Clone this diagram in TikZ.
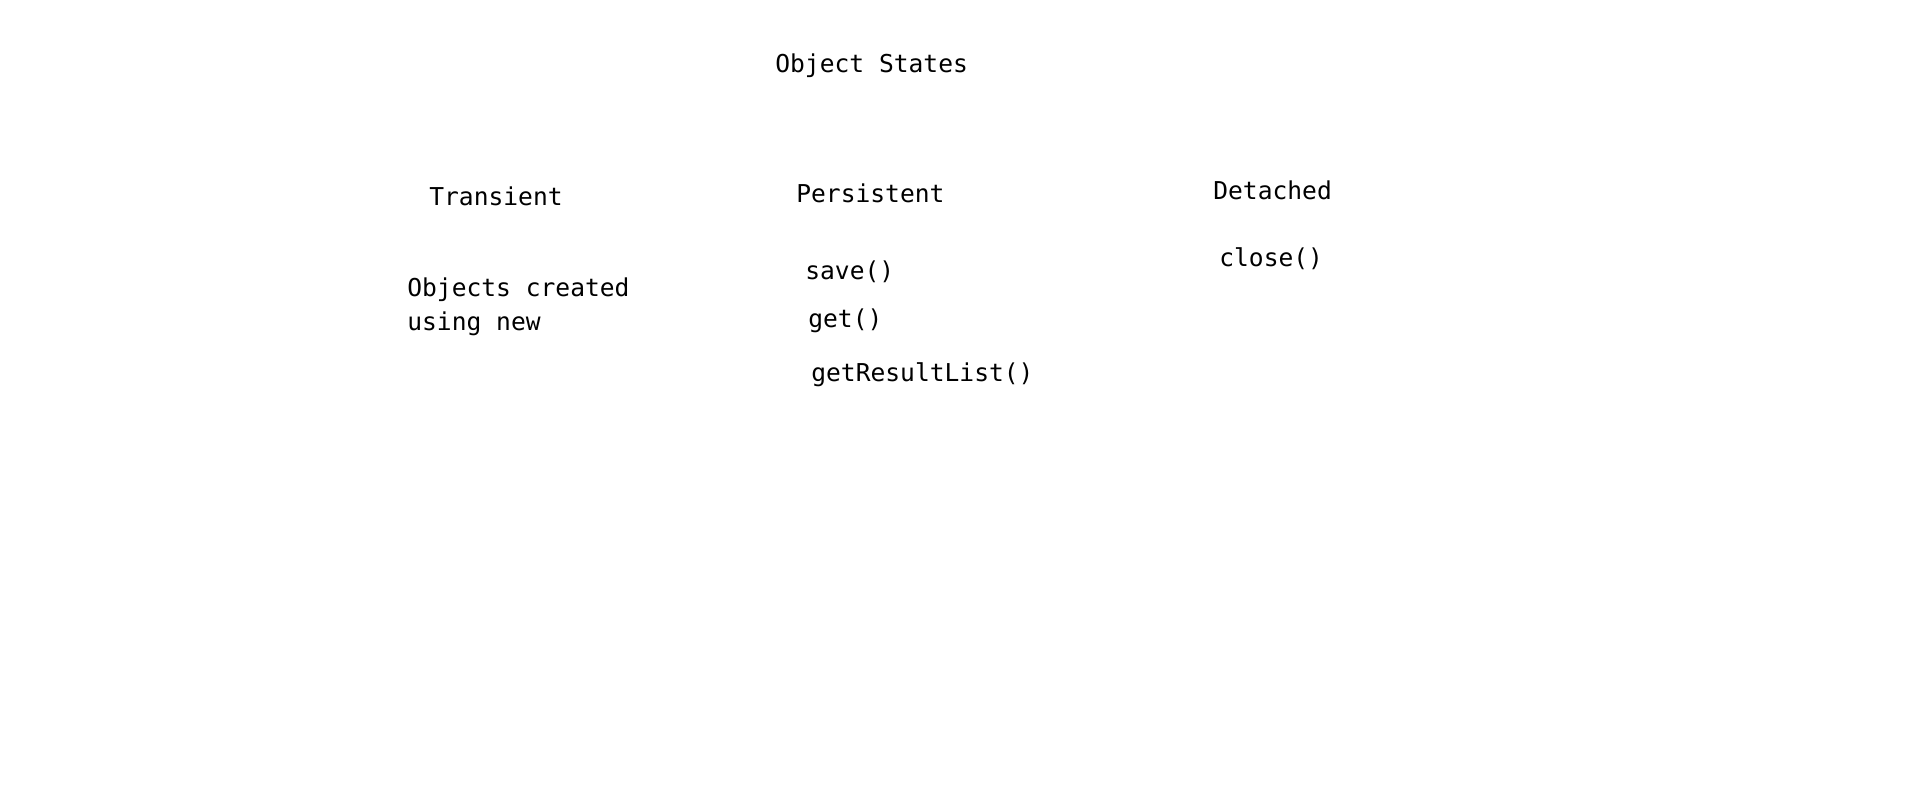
\documentclass[tikz,border=0pt]{standalone}
\usepackage{fontspec}
\setmonofont{DejaVu Sans Mono}
\usepackage{tikz}
\usetikzlibrary{positioning}
\tikzset{
    statetext/.style = {anchor=west, inner sep=0pt, align=left, font=\ttfamily\fontsize{14}{19.3}\selectfont},
    methodtext/.style = {statetext},
}

\begin{document}
\begin{tikzpicture}
\useasboundingbox (0,0) rectangle (38.28,-15.92);
\node[statetext] at (15.50, -1.32) (title) {Object States};
\node[statetext] at (8.58, -3.92) (trans) {Transient};
\node[statetext] at (15.92, -3.86) (pers) {Persistent};
\node[statetext] at (24.26, -3.80) (det) {Detached};
%
\node[methodtext] at (8.14, -6.14) (tnew) {Objects created\\using new};
\node[methodtext] at (16.10, -5.44) (psave) {save()};
\node[methodtext] at (16.16, -6.42) (pget) {get()};
\node[methodtext] at (16.22, -7.50) (plist) {getResultList()};
\node[methodtext] at (24.38, -5.18) (dclose) {close()};
\end{tikzpicture}
\end{document}
